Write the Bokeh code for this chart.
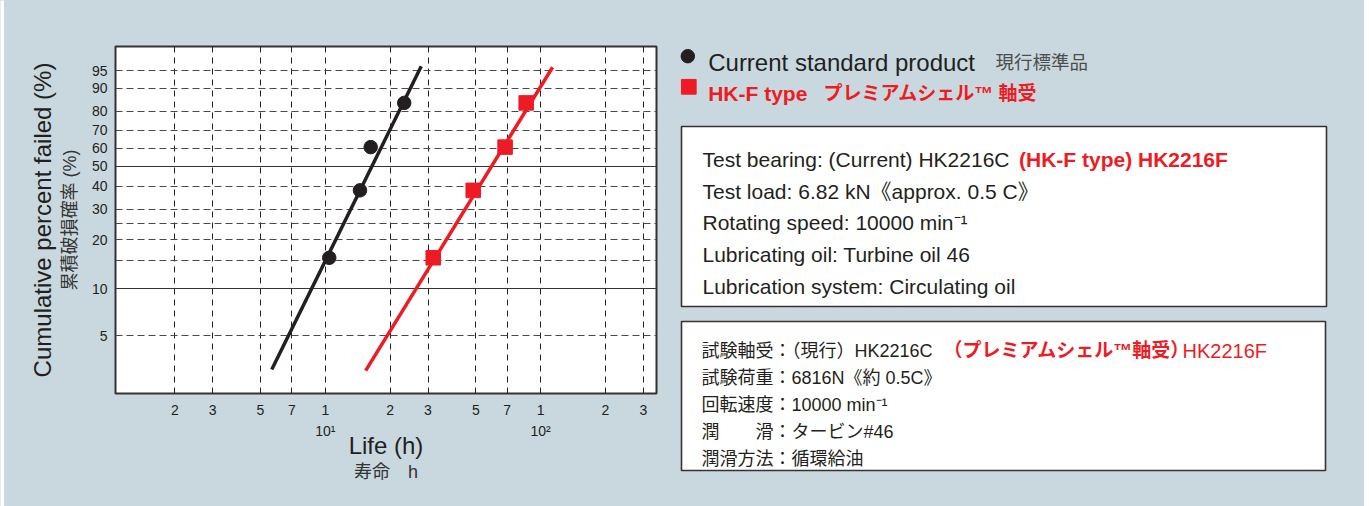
import numpy as np
from bokeh.plotting import figure
from bokeh.layouts import row
from bokeh.models import Range1d, FixedTicker, Grid, LogAxis, LinearAxis
from bokeh.core.properties import value
from bokeh.embed import file_html
from bokeh.resources import INLINE

# ---------------- data ----------------
current_life_h = [10.43, 14.49, 16.25, 23.26]
current_failed_pct = [15.6, 38.0, 60.5, 84.0]
hkf_life_h = [31.72, 48.66, 68.43, 85.74]
hkf_failed_pct = [15.6, 38.0, 60.5, 84.0]

current_fit_life_h = [5.64, 27.9]
current_fit_pct = [3.0, 96.0]
hkf_fit_life_h = [15.4, 113.7]
hkf_fit_pct = [2.95, 95.8]

y_ticks_pct = [5, 10, 15, 20, 25, 30, 40, 50, 60, 70, 80, 90, 95]
y_tick_labels = ["5", "10", "", "20", "", "30", "40", "50", "60", "70", "80", "90", "95"]
solid_pct = [10, 50]
x_ticks = [2, 3, 5, 7, 10, 20, 30, 50, 70, 100, 200, 300]
x_tick_labels = ["2", "3", "5", "7", "1", "2", "3", "5", "7", "1", "2", "3"]
decade_ticks = [10, 100]
decade_labels = ["10¹", "10²"]
x_limits = (1.06, 345.6)
y_limits_pct = (2.086, 98.72)

x_title = "Life (h)"
x_title_jp = "寿命　h"
y_title = "Cumulative percent failed (%)"
y_title_jp = "累積破損確率 (%)"
legend_texts = ["Current standard product", "現行標準品", "HK-F type", "プレミアムシェル™ 軸受"]
en_lines = ["Test bearing: (Current) HK2216C",
            "Test load: 6.82 kN《approx. 0.5 C》",
            "Rotating speed: 10000 min⁻¹",
            "Lubricating oil: Turbine oil 46",
            "Lubrication system: Circulating oil"]
en_red = "(HK-F type) HK2216F"
jp_lines = ["試験軸受：（現行）HK2216C",
            "試験荷重：6816N《約 0.5C》",
            "回転速度：10000 min⁻¹",
            "潤　　滑：タービン#46",
            "潤滑方法：循環給油"]
jp_red_bold = "（プレミアムシェル™軸受）"
jp_red = "HK2216F"


def weibull(pct):
    f = np.asarray(pct, dtype=float) / 100.0
    return np.log(-np.log(1.0 - f))


BG = "#c9d8de"
INK = "#231f20"
RED = "#ed1c24"
LAT = "'Liberation Sans'"
MIX = "'Liberation Sans', 'Noto Sans CJK JP'"
H = 506

# thin white strip on the far left (page edge)
p0 = figure(width=4, height=H, output_backend="svg", toolbar_location=None, min_border=0,
            x_axis_location=None, y_axis_location=None, frame_align=False,
            background_fill_color="white", border_fill_color="white", outline_line_color=None)
p0.grid.visible = False

# ---------------- chart ----------------
W1 = 664
p = figure(width=W1, height=H, x_axis_type="log",
           x_range=Range1d(*x_limits),
           y_range=Range1d(*[float(v) for v in weibull(y_limits_pct)]),
           output_backend="svg", toolbar_location=None, frame_align=False,
           min_border_left=111, min_border_right=12, min_border_top=46,
           min_border_bottom=113,
           background_fill_color="white", border_fill_color=BG,
           outline_line_color="#333333", outline_line_width=2)

xa = p.xaxis[0]
xa.ticker = FixedTicker(ticks=x_ticks)
xa.major_label_overrides = {t: l for t, l in zip(x_ticks, x_tick_labels)}
ya = p.yaxis[0]
yt = [float(v) for v in weibull(y_ticks_pct)]
ya.ticker = FixedTicker(ticks=yt)
ya.major_label_overrides = {t: l for t, l in zip(yt, y_tick_labels)}

xb = LogAxis(ticker=FixedTicker(ticks=decade_ticks),
             major_label_overrides={t: l for t, l in zip(decade_ticks, decade_labels)},
             axis_label=x_title)
xc = LogAxis(ticker=FixedTicker(ticks=[]), axis_label=x_title_jp)
yb = LinearAxis(ticker=FixedTicker(ticks=[]), axis_label=y_title)
p.add_layout(xb, "below")
p.add_layout(xc, "below")
p.add_layout(yb, "left")

for ax in (xa, ya, xb, xc, yb):
    ax.axis_line_color = None
    ax.major_tick_line_color = None
    ax.minor_tick_line_color = None
    ax.major_tick_out = 0
    ax.major_tick_in = 0
    ax.minor_tick_out = 0
    ax.major_label_text_font = "Liberation Sans"
    ax.major_label_text_font_size = "14px"
    ax.major_label_text_color = INK
    ax.axis_label_text_font_style = "normal"
    ax.axis_label_text_color = INK

xa.major_label_standoff = 11
ya.major_label_standoff = 8
ya.axis_label = y_title_jp
ya.axis_label_text_font = MIX
ya.axis_label_text_font_size = "18px"
ya.axis_label_text_color = "#333333"
ya.axis_label_standoff = 9
yb.major_label_standoff = 0
yb.axis_label_text_font = "Liberation Sans"
yb.axis_label_text_font_size = "24px"
yb.axis_label_standoff = 1
xb.major_label_standoff = 5
xb.axis_label_text_font = "Liberation Sans"
xb.axis_label_text_font_size = "24px"
xb.axis_label_standoff = -10
xc.major_label_standoff = 0
xc.axis_label_text_font = MIX
xc.axis_label_text_font_size = "18px"
xc.axis_label_text_color = "#333333"
xc.axis_label_standoff = 0

p.xgrid.ticker = FixedTicker(ticks=x_ticks)
p.xgrid.grid_line_color = "#222222"
p.xgrid.grid_line_dash = "6 5"
p.xgrid.grid_line_width = 1
dashed_pct = [v for v in y_ticks_pct if v not in solid_pct]
p.ygrid.ticker = FixedTicker(ticks=[float(v) for v in weibull(dashed_pct)])
p.ygrid.grid_line_color = "#4a4a4a"
p.ygrid.grid_line_dash = "7 4"
p.ygrid.grid_line_width = 1
p.add_layout(Grid(dimension=1, ticker=FixedTicker(ticks=[float(v) for v in weibull(solid_pct)]),
                  grid_line_color="#333333", grid_line_width=1))

p.line(current_fit_life_h, weibull(current_fit_pct), line_width=3.5, line_color=INK)
p.line(hkf_fit_life_h, weibull(hkf_fit_pct), line_width=3.5, line_color=RED)
p.scatter(current_life_h, weibull(current_failed_pct), marker="circle", size=13.5,
          fill_color=INK, line_color=INK)
p.scatter(hkf_life_h, weibull(hkf_failed_pct), marker="square", size=14.5,
          fill_color=RED, line_color=RED)

# ---------------- side panel (page-pixel coordinates) ----------------
X0 = 4 + W1
W2 = 1364 - X0
q = figure(width=W2, height=H, x_range=Range1d(X0, X0 + W2), y_range=Range1d(H, 0),
           output_backend="svg", toolbar_location=None, min_border=0, frame_align=False,
           x_axis_location=None, y_axis_location=None,
           background_fill_color=BG, border_fill_color=BG, outline_line_color=None)
q.grid.visible = False

q.quad(left=[681, 681], right=[1326, 1325], top=[126, 321], bottom=[306, 470],
       fill_color="white", line_color="#333333", line_width=1.6)

q.scatter([687.3], [55.7], marker="circle", size=13.5, fill_color=INK, line_color=INK)
q.scatter([688.3], [86.3], marker="square", size=14.7, fill_color=RED, line_color=RED)


def txt(x, y, s, size, color, font=MIX, bold=False):
    q.text(x=x, y=y, text=s, text_font=value(font), text_font_size=size,
           text_color=color, text_baseline="alphabetic", text_align="left",
           text_font_style="bold" if bold else "normal")


txt([707.7], [62.3], [legend_texts[0]], "24px", INK, LAT)
txt([995], [61.8], [legend_texts[1]], "18.5px", "#4d4d4d")
txt([707.7], [92.7], [legend_texts[2]], "21px", RED, LAT, bold=True)
txt([823], [93], [legend_texts[3]], "19px", RED, bold=True)

en_y = [159, 190.7, 222.3, 254.3, 285.7]
txt([702] * 5, en_y, en_lines, "21px", INK)
txt([1018.5], [en_y[0]], [en_red], "21px", RED, LAT, bold=True)

jp_y = [350, 377.2, 404.4, 431.6, 458.8]
txt([701] * 5, jp_y, jp_lines, "18px", INK)
txt([943], [jp_y[0]], [jp_red_bold], "19px", RED, bold=True)
txt([1182], [jp_y[0]], [jp_red], "20px", RED)

layout = row(p0, p, q, styles={"background-color": BG})
open("out.html", "w").write(file_html(layout, INLINE))
